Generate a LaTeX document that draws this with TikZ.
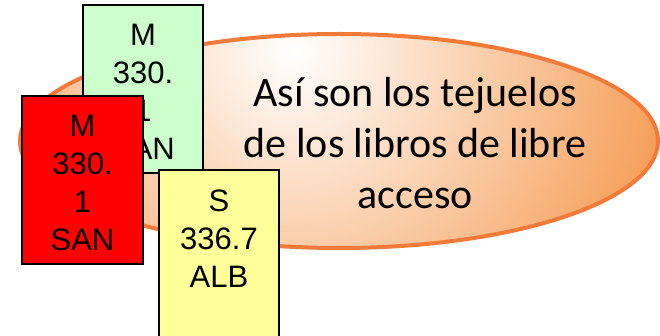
\documentclass[tikz,border=0pt]{standalone}
\usepackage{fontspec}
\setmainfont{Carlito}
\newfontfamily\arialfont{Liberation Sans}
\usepackage{tikz}
\usetikzlibrary{shapes.geometric}

\definecolor{naranja}{RGB}{245,158,88}
\definecolor{borde}{RGB}{244,122,58}
\definecolor{verde}{RGB}{204,255,204}
\definecolor{amarillo}{RGB}{255,255,153}

\begin{document}
\begin{tikzpicture}[x=1pt, y=-1pt,
	burbuja/.style={ellipse, draw=borde, line width=4pt, minimum width=638pt, minimum height=214pt,
		path picture={\shade[inner color=white, outer color=naranja]
			([xshift=-45pt, yshift=90pt]path picture bounding box.center) circle (380pt);}},
	frase/.style={font=\fontsize{42}{51}\selectfont, align=center, inner sep=0pt, anchor=base},
	tejuelo/.style={draw=black, line width=1.5pt},
	signatura/.style={font=\arialfont\fontsize{31}{38}\selectfont, align=center, inner sep=0pt, anchor=base}]
						\useasboundingbox (0, 0) rectangle (660, 336);
						\clip (0, 0) rectangle (660, 336);
						
						\node[burbuja] (Burbuja) at (339, 141) {};
						% anchor base = last line
						\node[frase] (Texto) at (415, 209) {Así son los tejuelos\\de los libros de libre\\acceso};
						
						\draw[tejuelo, fill=verde] (83, 5) rectangle (203, 173);
						\node[signatura] (Verde) at (143, 160) {M\\330.\\1\\SAN};
						
						\draw[tejuelo, fill=red] (22, 96) rectangle (143, 264);
						\node[signatura] (Rojo) at (82.5, 250.5) {M\\330.\\1\\SAN};
						
						\draw[tejuelo, fill=amarillo] (159, 170) rectangle (279, 345);
						\node[signatura] (Amarillo) at (219, 287.5) {S\\336.7\\ALB};
						\end{tikzpicture}
\end{document}
